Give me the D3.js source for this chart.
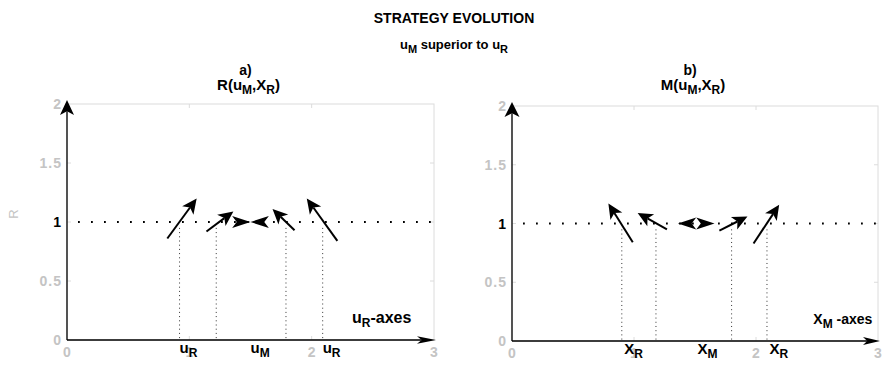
<!DOCTYPE html>
<html lang="en">
<head>
<meta charset="UTF-8">
<title>Strategy evolution</title>
<script src="https://cdn.jsdelivr.net/npm/d3@7"></script>
<style>
    body { margin: 0; background: #fff; }
    text { font-family: "Liberation Sans", Arial, Helvetica, sans-serif; }
</style>
</head>
<body>
<svg id="chart" width="890" height="366"></svg>
<script>
// ---- data ----
var xTicks = [0, 1, 2, 3];
var xTickLabels = ["0", "1", "2", "3"];
var yTicks = [0, 0.5, 1, 1.5, 2];
var yTickLabels = ["0", "0.5", "1", "1.5", "2"];
var refLevel = 1;

// panel a) R(uM, XR)
var aGuides = [0.92, 1.22, 1.79, 2.09];
var aMarkX = [0.92, 1.50, 2.09];
var aMarkSub = ["R", "M", "R"];
// arrows: [x0, y0, x1, y1] (head at x1, y1)
var aArrows = [
    [0.82, 0.86, 1.06, 1.20],
    [1.14, 0.92, 1.36, 1.09],
    [1.35, 1.00, 1.50, 1.00],
    [1.65, 1.00, 1.50, 1.00],
    [1.86, 0.93, 1.68, 1.11],
    [2.21, 0.84, 1.96, 1.20]
];

// panel b) M(uM, XR)
var bGuides = [0.90, 1.18, 1.80, 2.09];
var bMarkX = [0.92, 1.52, 2.11];
var bMarkSub = ["R", "M", "R"];
var bArrows = [
    [0.99, 0.84, 0.79, 1.17],
    [1.27, 0.95, 1.03, 1.09],
    [1.51, 1.00, 1.36, 1.00],
    [1.51, 1.00, 1.66, 1.00],
    [1.70, 0.94, 1.93, 1.06],
    [1.98, 0.83, 2.19, 1.16]
];

var svg = d3.select("#chart");
var gray = "#c4c4c4";

// text with subscripts: parts = [[string, isSub], ...]
function richText(g, x, y, parts, size, subSize, anchor, fill) {
    var t = g.append("text")
        .attr("x", x).attr("y", y)
        .attr("font-size", size)
        .attr("font-weight", "bold")
        .attr("text-anchor", anchor || "start")
        .attr("fill", fill || "#000");
    var shifted = false;
    parts.forEach(function(p) {
        var s = t.append("tspan").text(p[0]);
        if (p[1]) {
            s.attr("font-size", subSize);
            if (!shifted) { s.attr("dy", 4); shifted = true; }
        } else if (shifted) { s.attr("dy", -4); shifted = false; }
    });
    return t;
}

function head(x0, y0, x1, y1, len, hw) {
    var dx = x1 - x0, dy = y1 - y0, L = Math.sqrt(dx * dx + dy * dy);
    var ux = dx / L, uy = dy / L, px = -uy, py = ux;
    var bx = x1 - ux * len, by = y1 - uy * len;
    var nx = x1 - ux * len * 0.75, ny = y1 - uy * len * 0.75;
    return {
        d: "M" + x1 + "," + y1 +
           "L" + (bx + px * hw) + "," + (by + py * hw) +
           "L" + nx + "," + ny +
           "L" + (bx - px * hw) + "," + (by - py * hw) + "Z",
        nx: nx, ny: ny
    };
}

function drawArrow(g, x0, y0, x1, y1, len, hw, w) {
    var L = Math.sqrt((x1 - x0) * (x1 - x0) + (y1 - y0) * (y1 - y0));
    if (L < len + 6) {
        // short ones are all head
        g.append("path").attr("d", head(x0, y0, x1, y1, L, hw * 0.85).d).attr("fill", "#000");
        return;
    }
    var h = head(x0, y0, x1, y1, len, hw);
    g.append("line")
        .attr("x1", x0).attr("y1", y0).attr("x2", h.nx).attr("y2", h.ny)
        .attr("stroke", "#000").attr("stroke-width", w || 2);
    g.append("path").attr("d", h.d).attr("fill", "#000");
}

function panel(opt) {
    var x = d3.scaleLinear().domain([0, 3]).range([opt.left, opt.right]);
    var y = d3.scaleLinear().domain([0, 2]).range([opt.bottom, opt.top]);
    var g = svg.append("g");

    // light box
    g.append("rect")
        .attr("x", x(0)).attr("y", y(2))
        .attr("width", x(3) - x(0)).attr("height", y(0) - y(2))
        .attr("fill", "none").attr("stroke", "#dcdcdc").attr("stroke-width", 1);

    // inner ticks
    xTicks.slice(1, 3).forEach(function(v) {
        g.append("line").attr("x1", x(v)).attr("x2", x(v)).attr("y1", y(2)).attr("y2", y(2) + 4)
            .attr("stroke", "#dcdcdc");
        g.append("line").attr("x1", x(v)).attr("x2", x(v)).attr("y1", y(0)).attr("y2", y(0) - 4)
            .attr("stroke", "#dcdcdc");
    });
    yTicks.slice(1, 4).forEach(function(v) {
        g.append("line").attr("x1", x(3)).attr("x2", x(3) - 4).attr("y1", y(v)).attr("y2", y(v))
            .attr("stroke", "#dcdcdc");
        g.append("line").attr("x1", x(0)).attr("x2", x(0) + 4).attr("y1", y(v)).attr("y2", y(v))
            .attr("stroke", "#dcdcdc");
    });

    // tick labels
    g.selectAll(".yt").data(yTicks).enter().append("text")
        .attr("x", x(0) - 5).attr("y", function(d) { return y(d); })
        .attr("dy", "0.36em")
        .attr("text-anchor", "end")
        .attr("font-size", 14).attr("font-weight", "bold")
        .attr("letter-spacing", 1)
        .attr("fill", function(d) { return d === refLevel ? "#000" : gray; })
        .text(function(d, i) { return yTickLabels[i]; });
    g.selectAll(".xt").data(xTicks).enter().append("text")
        .attr("x", function(d) { return x(d); }).attr("y", y(0) + 17)
        .attr("text-anchor", "middle")
        .attr("font-size", 14).attr("font-weight", "bold")
        .attr("fill", gray)
        .text(function(d, i) { return xTickLabels[i]; });

    // reference level, dotted
    g.append("line")
        .attr("x1", x(0) + 11).attr("x2", x(3))
        .attr("y1", y(refLevel)).attr("y2", y(refLevel))
        .attr("stroke", "#000").attr("stroke-width", 1.8)
        .attr("stroke-dasharray", "1.8 11.2");

    // vertical guides
    opt.guides.forEach(function(v) {
        g.append("line")
            .attr("x1", x(v)).attr("x2", x(v))
            .attr("y1", y(0.95)).attr("y2", y(0))
            .attr("stroke", "#333").attr("stroke-width", 1)
            .attr("stroke-dasharray", "1 3.2");
    });

    // axes as arrows
    drawArrow(g, x(0), y(0), x(0), y(2) - 4, opt.vLen, opt.vHw, 1.3);
    drawArrow(g, x(0), y(0), x(3) + 2, y(0), opt.hLen, opt.hHw, 1.3);

    // state arrows
    opt.arrows.forEach(function(a) {
        drawArrow(g, x(a[0]), y(a[1]), x(a[2]), y(a[3]), 15, 7, 2);
    });

    // markers under the axis
    opt.markX.forEach(function(v, i) {
        richText(g, x(v), y(0) + 13, [[opt.sym, 0], [opt.markSub[i], 1]], 15, 12, "start");
    });

    // axis caption
    richText(g, x(opt.capX), y(0) - 17, opt.caption, opt.capSize, 12, "start");

    // titles
    var cx = (x(0) + x(3)) / 2;
    g.append("text").attr("x", cx - 5).attr("y", 75)
        .attr("text-anchor", "middle").attr("font-size", 14).attr("font-weight", "bold")
        .text(opt.letter);
    richText(g, cx - 2, 90, opt.title, 15, 12, "middle");

    return g;
}

// figure titles
svg.append("text").attr("x", 454).attr("y", 23)
    .attr("text-anchor", "middle").attr("font-size", 14).attr("font-weight", "bold")
    .text("STRATEGY EVOLUTION");
richText(svg, 454, 49, [["u", 0], ["M", 1], [" superior to u", 0], ["R", 1]], 13, 11, "middle");

// y label of panel a
svg.append("text")
    .attr("transform", "translate(18,214) rotate(-90)")
    .attr("text-anchor", "middle").attr("font-size", 13).attr("fill", gray)
    .text("R");

panel({
    left: 67, right: 434, top: 104, bottom: 340,
    guides: aGuides, arrows: aArrows, markX: aMarkX, markSub: aMarkSub,
    sym: "u",
    caption: [["u", 0], ["R", 1], ["-axes", 0]], capX: 2.33, capSize: 16,
    letter: "a)", title: [["R(u", 0], ["M", 1], [",X", 0], ["R", 1], [")", 0]],
    vLen: 15, vHw: 7, hLen: 19, hHw: 3.8
});

panel({
    left: 512, right: 878, top: 106, bottom: 341,
    guides: bGuides, arrows: bArrows, markX: bMarkX, markSub: bMarkSub,
    sym: "X",
    caption: [["X", 0], ["M", 1], [" -axes", 0]], capX: 2.47, capSize: 14,
    letter: "b)", title: [["M(u", 0], ["M", 1], [",X", 0], ["R", 1], [")", 0]],
    vLen: 15, vHw: 7.5, hLen: 17, hHw: 4
});
</script>
</body>
</html>
